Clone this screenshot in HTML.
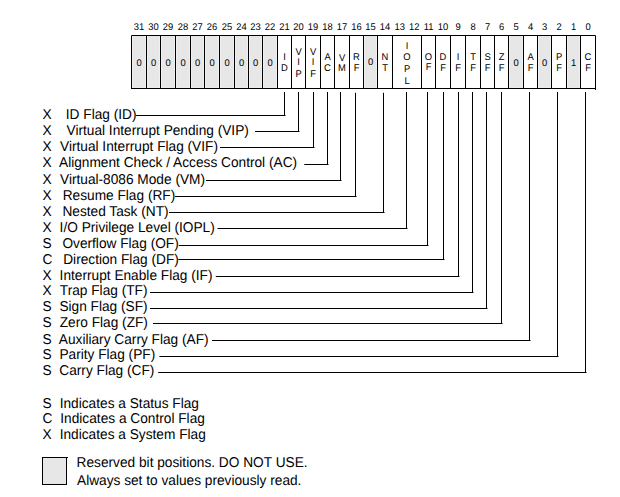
<!DOCTYPE html>
<html lang="en"><head><meta charset="utf-8"><title>EFLAGS Register</title>
<style>html,body{margin:0;padding:0;background:#fff}body{width:620px;height:497px;overflow:hidden}svg{display:block}text{text-rendering:geometricPrecision;font-family:"Liberation Sans",Arial,Helvetica,sans-serif;fill:#000}.n{font-size:9.4px;text-anchor:middle}.c{font-size:9.4px;text-anchor:middle}.t{font-size:13.7px}.l{stroke:#000;stroke-width:1;fill:none}</style></head><body>
<svg width="620" height="497" viewBox="0 0 620 497">
<rect width="620" height="497" fill="#fff"/>
<rect x="263.4" y="36.0" width="13.2" height="51.8" fill="#e7e7e7"/>
<rect x="249.4" y="36.0" width="12.2" height="51.8" fill="#e7e7e7"/>
<rect x="235.4" y="36.0" width="12.2" height="51.8" fill="#e7e7e7"/>
<rect x="220.4" y="36.0" width="13.2" height="51.8" fill="#e7e7e7"/>
<rect x="205.4" y="36.0" width="13.2" height="51.8" fill="#e7e7e7"/>
<rect x="191.4" y="36.0" width="12.2" height="51.8" fill="#e7e7e7"/>
<rect x="176.4" y="36.0" width="13.2" height="51.8" fill="#e7e7e7"/>
<rect x="161.4" y="36.0" width="13.2" height="51.8" fill="#e7e7e7"/>
<rect x="147.4" y="36.0" width="12.2" height="51.8" fill="#e7e7e7"/>
<rect x="132.4" y="36.0" width="13.2" height="51.8" fill="#e7e7e7"/>
<rect x="364.4" y="36.0" width="12.2" height="51.8" fill="#e7e7e7"/>
<rect x="509.4" y="36.0" width="13.2" height="51.8" fill="#e7e7e7"/>
<rect x="538.4" y="36.0" width="12.2" height="51.8" fill="#e7e7e7"/>
<rect x="567.4" y="36.0" width="12.2" height="51.8" fill="#e7e7e7"/>
<path class="l" d="M131.5 89.0V35.5H595.5V90.0M131.0 88.5H596.0"/>
<path class="l" d="M146.5 35.5V88.5M160.5 35.5V88.5M175.5 35.5V88.5M190.5 35.5V88.5M204.5 35.5V88.5M219.5 35.5V88.5M234.5 35.5V88.5M248.5 35.5V88.5M262.5 35.5V88.5M277.5 35.5V88.5M291.5 35.5V88.5M305.5 35.5V88.5M320.5 35.5V88.5M334.5 35.5V88.5M349.5 35.5V88.5M363.5 35.5V88.5M377.5 35.5V88.5M392.5 35.5V88.5M421.5 35.5V88.5M435.5 35.5V88.5M450.5 35.5V88.5M465.5 35.5V88.5M480.5 35.5V88.5M494.5 35.5V88.5M508.5 35.5V88.5M523.5 35.5V88.5M537.5 35.5V88.5M551.5 35.5V88.5M566.5 35.5V88.5M580.5 35.5V88.5"/>
<text class="n" transform="matrix(1 0 0 1.04 588.0 29.7)">0</text>
<text class="n" transform="matrix(1 0 0 1.04 573.5 29.7)">1</text>
<text class="n" transform="matrix(1 0 0 1.04 559.0 29.7)">2</text>
<text class="n" transform="matrix(1 0 0 1.04 544.5 29.7)">3</text>
<text class="n" transform="matrix(1 0 0 1.04 530.5 29.7)">4</text>
<text class="n" transform="matrix(1 0 0 1.04 516.0 29.7)">5</text>
<text class="n" transform="matrix(1 0 0 1.04 501.5 29.7)">6</text>
<text class="n" transform="matrix(1 0 0 1.04 487.5 29.7)">7</text>
<text class="n" transform="matrix(1 0 0 1.04 473.0 29.7)">8</text>
<text class="n" transform="matrix(1 0 0 1.04 458.0 29.7)">9</text>
<text class="n" transform="matrix(1 0 0 1.04 443.0 29.7)">10</text>
<text class="n" transform="matrix(1 0 0 1.04 428.5 29.7)">11</text>
<text class="n" transform="matrix(1 0 0 1.04 414.2 29.7)">12</text>
<text class="n" transform="matrix(1 0 0 1.04 399.8 29.7)">13</text>
<text class="n" transform="matrix(1 0 0 1.04 385.0 29.7)">14</text>
<text class="n" transform="matrix(1 0 0 1.04 370.5 29.7)">15</text>
<text class="n" transform="matrix(1 0 0 1.04 356.5 29.7)">16</text>
<text class="n" transform="matrix(1 0 0 1.04 342.0 29.7)">17</text>
<text class="n" transform="matrix(1 0 0 1.04 327.5 29.7)">18</text>
<text class="n" transform="matrix(1 0 0 1.04 313.0 29.7)">19</text>
<text class="n" transform="matrix(1 0 0 1.04 298.5 29.7)">20</text>
<text class="n" transform="matrix(1 0 0 1.04 284.5 29.7)">21</text>
<text class="n" transform="matrix(1 0 0 1.04 270.0 29.7)">22</text>
<text class="n" transform="matrix(1 0 0 1.04 255.5 29.7)">23</text>
<text class="n" transform="matrix(1 0 0 1.04 241.5 29.7)">24</text>
<text class="n" transform="matrix(1 0 0 1.04 227.0 29.7)">25</text>
<text class="n" transform="matrix(1 0 0 1.04 212.0 29.7)">26</text>
<text class="n" transform="matrix(1 0 0 1.04 197.5 29.7)">27</text>
<text class="n" transform="matrix(1 0 0 1.04 183.0 29.7)">28</text>
<text class="n" transform="matrix(1 0 0 1.04 168.0 29.7)">29</text>
<text class="n" transform="matrix(1 0 0 1.04 153.5 29.7)">30</text>
<text class="n" transform="matrix(1 0 0 1.04 139.0 29.7)">31</text>
<text class="c" transform="matrix(1 0 0 1.04 270.0 65.9)">0</text>
<text class="c" transform="matrix(1 0 0 1.04 255.5 65.9)">0</text>
<text class="c" transform="matrix(1 0 0 1.04 241.5 65.9)">0</text>
<text class="c" transform="matrix(1 0 0 1.04 227.0 65.9)">0</text>
<text class="c" transform="matrix(1 0 0 1.04 212.0 65.9)">0</text>
<text class="c" transform="matrix(1 0 0 1.04 197.5 65.9)">0</text>
<text class="c" transform="matrix(1 0 0 1.04 183.0 65.9)">0</text>
<text class="c" transform="matrix(1 0 0 1.04 168.0 65.9)">0</text>
<text class="c" transform="matrix(1 0 0 1.04 153.5 65.9)">0</text>
<text class="c" transform="matrix(1 0 0 1.04 139.0 65.9)">0</text>
<text class="c" transform="matrix(1 0 0 1.04 370.5 64.9)">0</text>
<text class="c" transform="matrix(1 0 0 1.04 516.0 65.9)">0</text>
<text class="c" transform="matrix(1 0 0 1.04 544.5 65.9)">0</text>
<text class="c" transform="matrix(1 0 0 1.04 573.5 65.9)">1</text>
<text class="c" transform="matrix(1 0 0 1.04 284.5 59.7)">I</text>
<text class="c" transform="matrix(1 0 0 1.04 284.5 70.9)">D</text>
<text class="c" transform="matrix(1 0 0 1.04 298.5 54.7)">V</text>
<text class="c" transform="matrix(1 0 0 1.04 298.5 64.9)">I</text>
<text class="c" transform="matrix(1 0 0 1.04 298.5 76.7)">P</text>
<text class="c" transform="matrix(1 0 0 1.04 313.0 54.7)">V</text>
<text class="c" transform="matrix(1 0 0 1.04 313.0 64.9)">I</text>
<text class="c" transform="matrix(1 0 0 1.04 313.0 76.7)">F</text>
<text class="c" transform="matrix(1 0 0 1.04 327.5 59.7)">A</text>
<text class="c" transform="matrix(1 0 0 1.04 327.5 70.9)">C</text>
<text class="c" transform="matrix(1 0 0 1.04 342.0 61.2)">V</text>
<text class="c" transform="matrix(1 0 0 1.04 342.0 70.9)">M</text>
<text class="c" transform="matrix(1 0 0 1.04 356.5 59.7)">R</text>
<text class="c" transform="matrix(1 0 0 1.04 356.5 70.9)">F</text>
<text class="c" transform="matrix(1 0 0 1.04 385.0 59.7)">N</text>
<text class="c" transform="matrix(1 0 0 1.04 385.0 70.9)">T</text>
<text class="c" transform="matrix(1 0 0 1.04 428.5 59.9)">O</text>
<text class="c" transform="matrix(1 0 0 1.04 428.5 69.7)">F</text>
<text class="c" transform="matrix(1 0 0 1.04 443.0 59.7)">D</text>
<text class="c" transform="matrix(1 0 0 1.04 443.0 70.9)">F</text>
<text class="c" transform="matrix(1 0 0 1.04 458.0 59.7)">I</text>
<text class="c" transform="matrix(1 0 0 1.04 458.0 70.9)">F</text>
<text class="c" transform="matrix(1 0 0 1.04 473.0 59.7)">T</text>
<text class="c" transform="matrix(1 0 0 1.04 473.0 70.9)">F</text>
<text class="c" transform="matrix(1 0 0 1.04 487.5 59.7)">S</text>
<text class="c" transform="matrix(1 0 0 1.04 487.5 70.9)">F</text>
<text class="c" transform="matrix(1 0 0 1.04 501.5 59.7)">Z</text>
<text class="c" transform="matrix(1 0 0 1.04 501.5 70.9)">F</text>
<text class="c" transform="matrix(1 0 0 1.04 530.5 59.7)">A</text>
<text class="c" transform="matrix(1 0 0 1.04 530.5 70.9)">F</text>
<text class="c" transform="matrix(1 0 0 1.04 559.0 59.7)">P</text>
<text class="c" transform="matrix(1 0 0 1.04 559.0 70.9)">F</text>
<text class="c" transform="matrix(1 0 0 1.04 588.0 59.7)">C</text>
<text class="c" transform="matrix(1 0 0 1.04 588.0 70.9)">F</text>
<text class="c" transform="matrix(1 0 0 1.04 407 48.8)">I</text>
<text class="c" transform="matrix(1 0 0 1.04 407 59.9)">O</text>
<text class="c" transform="matrix(1 0 0 1.04 407 71.5)">P</text>
<text class="c" transform="matrix(1 0 0 1.04 407 83.8)">L</text>
<text class="t" transform="matrix(1 0 0 1.04 42.6 118.6)">X</text><text class="t" transform="matrix(1 0 0 1.04 65.8 118.6)">ID Flag (ID)</text>
<text class="t" transform="matrix(1 0 0 1.04 42.6 134.7)">X</text><text class="t" transform="matrix(1 0 0 1.04 66.5 134.7)">Virtual Interrupt Pending (VIP)</text>
<text class="t" transform="matrix(1 0 0 1.04 42.6 150.6)">X</text><text class="t" transform="matrix(1 0 0 1.04 60 150.6)">Virtual Interrupt Flag (VIF)</text>
<text class="t" transform="matrix(1 0 0 1.04 42.6 167.4)">X</text><text class="t" transform="matrix(1 0 0 1.04 59 167.4)">Alignment Check / Access Control (AC)</text>
<text class="t" transform="matrix(1 0 0 1.04 42.6 184.0)">X</text><text class="t" transform="matrix(1 0 0 1.04 60 184.0)">Virtual-8086 Mode (VM)</text>
<text class="t" transform="matrix(1 0 0 1.04 42.6 200.4)">X</text><text class="t" transform="matrix(1 0 0 1.04 62.7 200.4)">Resume Flag (RF)</text>
<text class="t" transform="matrix(1 0 0 1.04 42.6 215.6)">X</text><text class="t" transform="matrix(1 0 0 1.04 62.4 215.6)">Nested Task (NT)</text>
<text class="t" transform="matrix(1 0 0 1.04 42.6 231.7)">X</text><text class="t" transform="matrix(1 0 0 1.04 59.6 231.7)">I/O Privilege Level (IOPL)</text>
<text class="t" transform="matrix(1 0 0 1.04 42.6 247.5)">S</text><text class="t" transform="matrix(1 0 0 1.04 62.4 247.5)">Overflow Flag (OF)</text>
<text class="t" transform="matrix(1 0 0 1.04 42.6 263.5)">C</text><text class="t" transform="matrix(1 0 0 1.04 63.2 263.5)">Direction Flag (DF)</text>
<text class="t" transform="matrix(1 0 0 1.04 42.6 279.5)">X</text><text class="t" transform="matrix(1 0 0 1.04 59.6 279.5)">Interrupt Enable Flag (IF)</text>
<text class="t" transform="matrix(1 0 0 1.04 42.6 295.4)">X</text><text class="t" transform="matrix(1 0 0 1.04 59.8 295.4)">Trap Flag (TF)</text>
<text class="t" transform="matrix(1 0 0 1.04 42.6 311.4)">S</text><text class="t" transform="matrix(1 0 0 1.04 59.4 311.4)">Sign Flag (SF)</text>
<text class="t" transform="matrix(1 0 0 1.04 42.6 327.4)">S</text><text class="t" transform="matrix(1 0 0 1.04 59.7 327.4)">Zero Flag (ZF)</text>
<text class="t" transform="matrix(1 0 0 1.04 42.6 343.5)">S</text><text class="t" transform="matrix(1 0 0 1.04 58.8 343.5)">Auxiliary Carry Flag (AF)</text>
<text class="t" transform="matrix(1 0 0 1.04 42.6 359.3)">S</text><text class="t" transform="matrix(1 0 0 1.04 59.4 359.3)">Parity Flag (PF)</text>
<text class="t" transform="matrix(1 0 0 1.04 42.6 375.4)">S</text><text class="t" transform="matrix(1 0 0 1.04 59.3 375.4)">Carry Flag (CF)</text>
<path class="l" d="M136 115.5H285.5M284.5 116.0V92.0M255 131.5H299.5M298.5 132.0V92.0M220 147.5H314.5M313.5 148.0V92.0M304.3 164.5H328.5M327.5 165.0V92.0M206 180.5H341.5M340.5 181.0V92.0M175 196.5H356.5M355.5 197.0V92.8M169 212.5H384.5M383.5 213.0V92.8M217.5 228.5H407.5M406.5 229.0V92.0M178.8 245.5H428.5M427.5 246.0V92.0M178.3 259.5H444.5M443.5 260.0V92.0M215.8 276.5H459.5M458.5 277.0V92.0M150 292.5H473.5M472.5 293.0V92.0M150 308.5H487.5M486.5 309.0V92.0M153 323.5H502.5M501.5 324.0V92.0M212 340.5H530.5M529.5 341.0V92.0M159.4 356.5H558.5M557.5 357.0V92.0M158.2 372.5H586.5M585.5 373.0V92.0"/>
<text class="t" transform="matrix(1 0 0 1.04 42.6 407.5)">S</text><text class="t" transform="matrix(1 0 0 1.04 59.7 407.5)">Indicates a Status Flag</text>
<text class="t" transform="matrix(1 0 0 1.04 42.6 423.3)">C</text><text class="t" transform="matrix(1 0 0 1.04 60.3 423.3)">Indicates a Control Flag</text>
<text class="t" transform="matrix(1 0 0 1.04 42.6 438.8)">X</text><text class="t" transform="matrix(1 0 0 1.04 59.7 438.8)">Indicates a System Flag</text>
<rect x="43" y="458" width="23.5" height="26" fill="#e7e7e7"/>
<path class="l" d="M42.5 457.5H68M42.5 457V485M42 484.5H67M66.5 457V485"/>
<text class="t" transform="matrix(1 0 0 1.04 76.6 467.2)">Reserved bit positions. DO NOT USE.</text>
<text class="t" transform="matrix(1 0 0 1.04 77 484.5)">Always set to values previously read.</text>
</svg></body></html>
